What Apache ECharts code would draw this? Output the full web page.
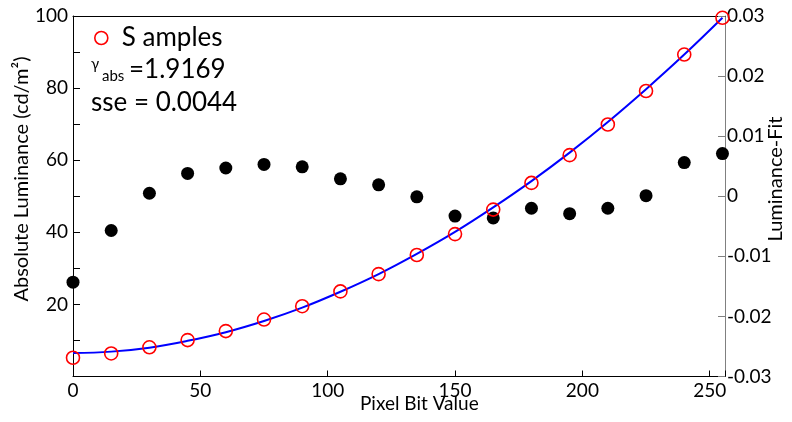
<!DOCTYPE html>
<html>
<head>
<meta charset="utf-8">
<script src="https://cdn.jsdelivr.net/npm/echarts@6/dist/echarts.min.js"></script>
<style>
  html, body { margin: 0; padding: 0; background: #fff; }
  #chart { width: 792px; height: 422px; }
</style>
</head>
<body>
<div id="chart"></div>
<script>
// ---- data ----
var pixelValues = [0, 15, 30, 45, 60, 75, 90, 105, 120, 135, 150, 165, 180, 195, 210, 225, 240, 255];
var luminance = [5.2, 6.4, 8.1, 10.1, 12.6, 15.8, 19.5, 23.6, 28.4, 33.7, 39.5, 46.3, 53.7, 61.4, 69.9, 79.2, 89.3, 99.5];
var fitLuminance = [6.5, 6.9, 8.0, 9.9, 12.3, 15.4, 19.1, 23.5, 28.4, 34.0, 40.1, 46.9, 54.2, 62.1, 70.6, 79.7, 89.3, 99.5];
var residuals = [-0.0143, -0.0057, 0.0005, 0.0038, 0.0047, 0.0053, 0.0049, 0.0029, 0.0019, -0.0001, -0.0033, -0.0036, -0.0020, -0.0029, -0.0020, 0.0001, 0.0056, 0.0071];
var xTicks = [0, 50, 100, 150, 200, 250];
var leftTicks = [20, 40, 60, 80, 100];
var rightTicks = [-0.03, -0.02, -0.01, 0, 0.01, 0.02, 0.03];
var legendLabel = 'S amples';
var gammaText = '=1.9169';
var sseText = 'sse = 0.0044';

function zip(xs, ys) { return xs.map(function (x, i) { return [x, ys[i]]; }); }

var FONT = 'Lato';
var chart = echarts.init(document.getElementById('chart'), null, { renderer: 'canvas' });

var option = {
  animation: false,
  backgroundColor: '#fff',
  textStyle: { fontFamily: FONT },
  grid: { left: 73, right: 67, top: 16, bottom: 45.5, containLabel: false },
  legend: {
    left: 89, top: 20,
    itemWidth: 13, itemHeight: 13,
    data: [{ name: legendLabel, icon: 'circle',
             itemStyle: { color: 'rgba(0,0,0,0)', borderColor: '#ff0000', borderWidth: 1.6 } }],
    itemStyle: { color: 'rgba(0,0,0,0)', borderColor: '#ff0000', borderWidth: 1.6 },
    textStyle: { fontSize: 26, color: '#000', fontFamily: FONT, padding: [0, 0, 0, 9] },
    selectedMode: false
  },
  xAxis: [{
    type: 'value', min: 0, max: 256, interval: 50, position: 'bottom',
    axisLine: { show: true, onZero: false, lineStyle: { color: '#000', width: 1 } },
    axisTick: { show: true, inside: true, length: 6, lineStyle: { color: '#000' } },
    axisLabel: {
      color: '#000', fontSize: 19, margin: 5, fontFamily: FONT,
      formatter: function (v) { return xTicks.indexOf(v) >= 0 ? String(v) : ''; }
    },
    splitLine: { show: false }
  }, {
    type: 'value', min: 0, max: 256, position: 'top',
    axisLine: { show: true, onZero: false, lineStyle: { color: '#000', width: 1 } },
    axisTick: { show: false }, axisLabel: { show: false }, splitLine: { show: false }
  }],
  yAxis: [{
    type: 'value', min: 0, max: 100, interval: 10, position: 'left',
    axisLine: { show: true, onZero: false, lineStyle: { color: '#000', width: 1 } },
    axisTick: { show: true, inside: true, length: 7, lineStyle: { color: '#000' } },
    axisLabel: {
      color: '#000', fontSize: 19, margin: 5, fontFamily: FONT,
      formatter: function (v) { return leftTicks.indexOf(v) >= 0 ? String(v) : ''; }
    },
    splitLine: { show: false }
  }, {
    type: 'value', min: -0.03, max: 0.03, interval: 0.01, position: 'right',
    axisLine: { show: true, onZero: false, lineStyle: { color: '#808080', width: 1 } },
    axisTick: { show: true, inside: true, length: 7, lineStyle: { color: '#808080' } },
    axisLabel: {
      color: '#000', fontSize: 19, margin: 2, fontFamily: FONT,
      formatter: function (v) {
        var r = Math.round(v * 100) / 100;
        if (r === 0) return '0';
        return r.toFixed(2);
      }
    },
    splitLine: { show: false }
  }],
  graphic: [
    { type: 'text', left: 91, top: 57, style: { text: 'γ', fontSize: 15, fill: '#000', fontFamily: FONT } },
    { type: 'text', left: 102, top: 69, style: { text: 'abs', fontSize: 15, fill: '#000', fontFamily: FONT } },
    { type: 'text', left: 129, top: 57, style: { text: gammaText, fontSize: 26, fill: '#000', fontFamily: FONT } },
    { type: 'text', left: 91, top: 90, style: { text: sseText, fontSize: 26, fill: '#000', fontFamily: FONT } },
    { type: 'text', left: 360, top: 394, style: { text: 'Pixel Bit Value', fontSize: 19, fill: '#000', fontFamily: FONT } },
    { type: 'text', x: 22, y: 179, rotation: Math.PI / 2,
      style: { text: 'Absolute Luminance (cd/m²)', fontSize: 20, fill: '#000', fontFamily: FONT, align: 'center', verticalAlign: 'middle' } },
    { type: 'text', x: 776, y: 179, rotation: Math.PI / 2,
      style: { text: 'Luminance-Fit', fontSize: 20, fill: '#000', fontFamily: FONT, align: 'center', verticalAlign: 'middle' } }
  ],
  series: [{
    name: 'fit', type: 'line', xAxisIndex: 0, yAxisIndex: 0,
    data: zip(pixelValues, fitLuminance), smooth: 0.4, showSymbol: false, symbol: 'none',
    lineStyle: { color: '#0000ff', width: 2 }, z: 2
  }, {
    name: 'residual', type: 'scatter', xAxisIndex: 0, yAxisIndex: 1,
    data: zip(pixelValues, residuals), symbol: 'circle', symbolSize: 13,
    itemStyle: { color: '#000', opacity: 1 }, z: 3
  }, {
    name: legendLabel, type: 'scatter', xAxisIndex: 0, yAxisIndex: 0,
    data: zip(pixelValues, luminance), symbol: 'circle', symbolSize: 13,
    itemStyle: { color: 'rgba(0,0,0,0)', borderColor: '#ff0000', borderWidth: 1.6, opacity: 1 }, z: 4
  }]
};
chart.setOption(option);
</script>
</body>
</html>
